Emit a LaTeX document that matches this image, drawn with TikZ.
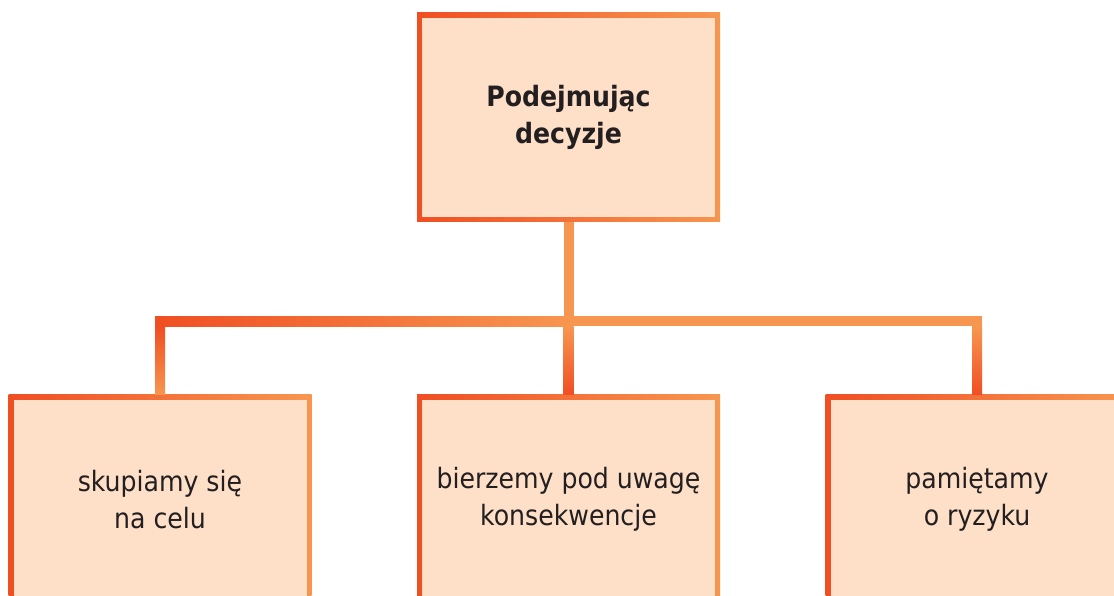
\documentclass[tikz,border=0pt]{standalone}
\usepackage{fontspec}
\setmainfont{DejaVu Sans Condensed}
\usetikzlibrary{calc}

\definecolor{warmred}{RGB}{240,78,35}
\definecolor{warmlight}{RGB}{247,150,80}
\definecolor{boxfill}{RGB}{254,224,200}
\definecolor{boxtext}{RGB}{35,31,32}

\tikzset{
  choicebox/.style={rectangle, inner sep=0pt, minimum width=303pt, minimum height=209pt,
    align=center, text=boxtext, left color=warmred, right color=warmlight,
    font=\fontsize{28}{37}\selectfont,
    path picture={\fill[boxfill]
      ([shift={(5pt,-5pt)}]path picture bounding box.north west) rectangle
      ([shift={(-5pt,5pt)}]path picture bounding box.south east);}},
  headbox/.style={choicebox, font=\fontsize{28}{37}\selectfont\bfseries},
}

\begin{document}
\begin{tikzpicture}[x=1pt,y=1pt]
\useasboundingbox (0,0) rectangle (1114,595);
\clip (0,0) rectangle (1114,595);

% Drawing the top box
\node[headbox] (decide) at (568.5,477.5) {Podejmując\\decyzje};

% Drawing the three lower boxes
\node[choicebox] (goal) at (160,95.5) {skupiamy się\\na celu};
\node[choicebox] (result) at (568.5,95.5) {bierzemy pod uwagę\\konsekwencje};
\node[choicebox] (risk) at (977,95.5) {pamiętamy\\o ryzyku};

% Point where the stem meets the bar
\coordinate (fork) at (568.5,273.5);

% Drawing stem from the top box
\fill[warmlight] ($(decide.south)+(-5,0)$) rectangle ($(fork)+(5,0)$);%

% Drawing the bar, left half shaded
\shade[left color=warmred, right color=warmlight]
  ($(fork -| goal.north)+(-5,5)$) rectangle ($(fork)+(0,-5)$);%
\fill[warmlight] ($(fork)+(0,5)$) rectangle ($(fork -| risk.north)+(5,-5)$);%

% Drawing the three drops
\shade[top color=warmred, bottom color=warmlight]
  ($(fork -| goal.north)+(-5,-5)$) rectangle ($(goal.north)+(5,0)$);%
\shade[top color=warmlight, bottom color=warmred]
  ($(fork)+(-5,-5)$) rectangle ($(result.north)+(5,0)$);%
\shade[top color=warmlight, bottom color=warmred]
  ($(fork -| risk.north)+(-5,-5)$) rectangle ($(risk.north)+(5,0)$);%
\end{tikzpicture}
\end{document}
